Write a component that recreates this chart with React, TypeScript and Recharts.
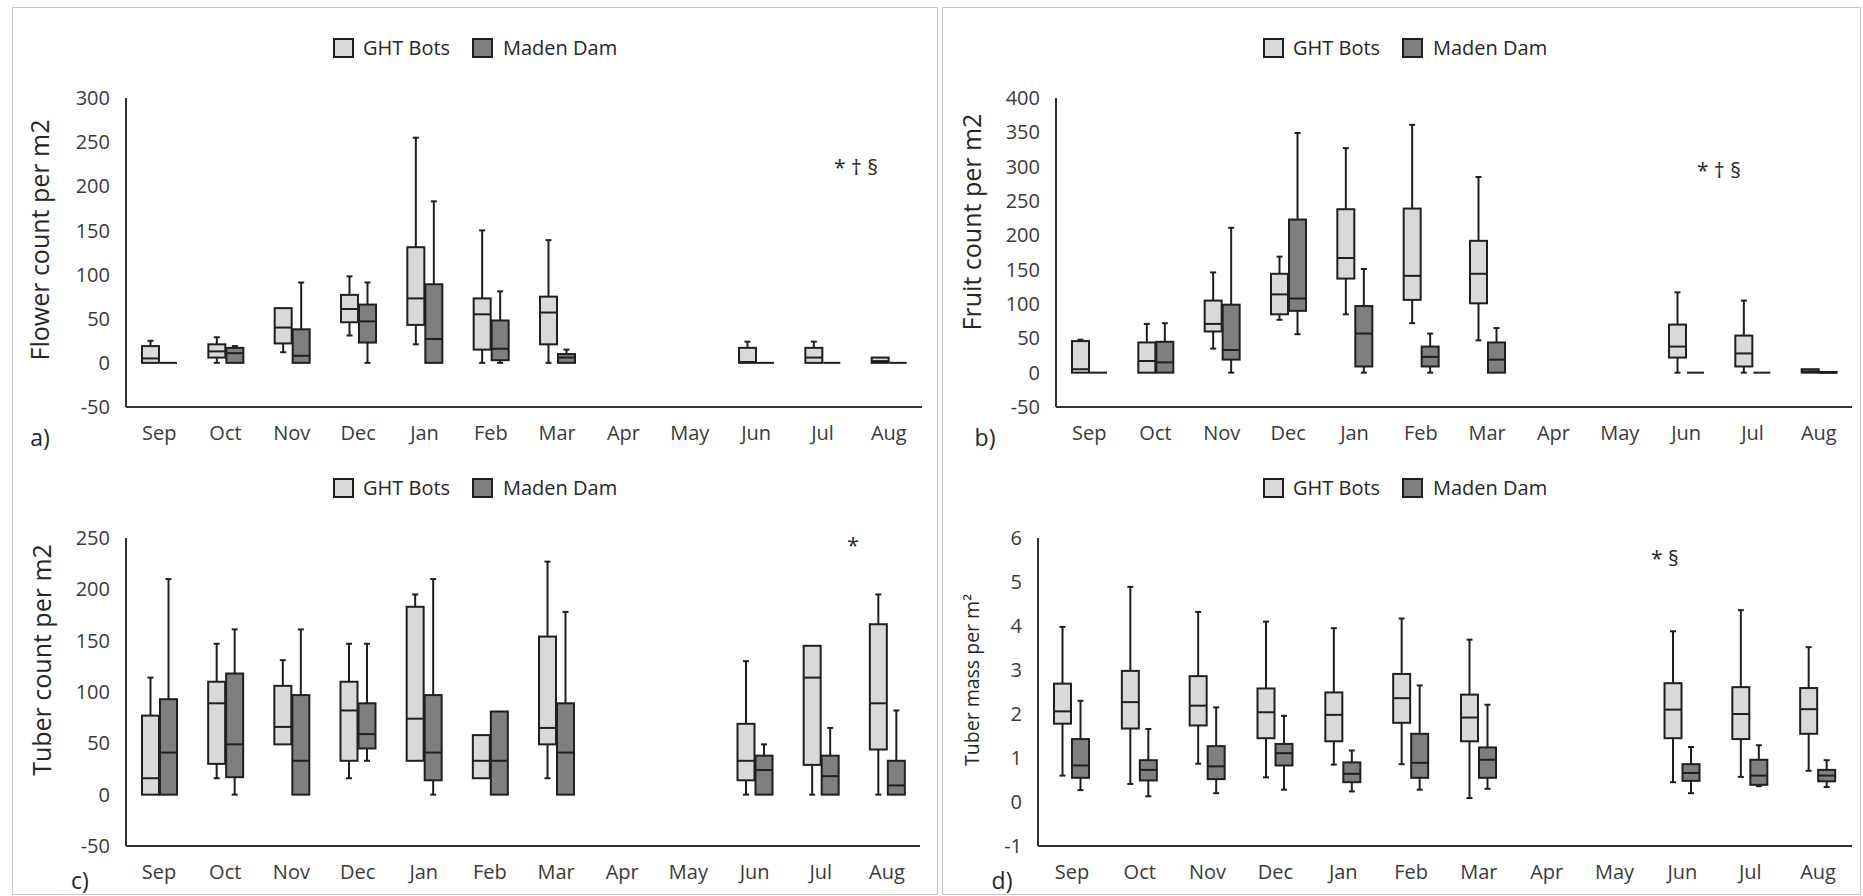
import React from 'react';
import { ComposedChart, Bar, XAxis, YAxis } from 'recharts';

const FONT = '"Open Sans", "DejaVu Sans", sans-serif';
const GHT_FILL = '#d9d9d9';
const MADEN_FILL = '#7f7f7f';
const INK = '#1f1f1f';

const months = ['Sep', 'Oct', 'Nov', 'Dec', 'Jan', 'Feb', 'Mar', 'Apr', 'May', 'Jun', 'Jul', 'Aug'];

// each entry: [whisker low, Q1, median, Q3, whisker high]
const flowerGht = [
  [0, 0, 5, 19, 25], [0, 6, 13, 21, 29], [12, 22, 40, 62, 62], [31, 46, 61, 77, 98],
  [21, 43, 73, 131, 255], [0, 15, 55, 73, 150], [0, 21, 57, 75, 139], null, null,
  [0, 0, 1, 17, 24], [0, 0, 6, 17, 24], [0, 0, 2, 6, 6],
];
const flowerMaden = [
  [0, 0, 0, 0, 0], [0, 0, 11, 17, 19], [0, 0, 8, 38, 91], [0, 23, 47, 66, 91],
  [0, 0, 27, 89, 183], [0, 3, 16, 48, 81], [0, 0, 6, 10, 15], null, null,
  [0, 0, 0, 0, 0], [0, 0, 0, 0, 0], [0, 0, 0, 0, 0],
];
const fruitGht = [
  [0, 0, 5, 46, 48], [0, 0, 17, 44, 71], [35, 60, 71, 105, 146], [77, 85, 114, 144, 169],
  [85, 137, 167, 238, 327], [72, 106, 141, 239, 361], [47, 101, 144, 192, 285], null, null,
  [0, 22, 38, 70, 117], [0, 9, 28, 54, 105], [0, 0, 2, 5, 5],
];
const fruitMaden = [
  [0, 0, 0, 0, 0], [0, 0, 15, 45, 72], [0, 19, 33, 99, 211], [56, 90, 108, 223, 349],
  [0, 9, 57, 97, 151], [0, 9, 23, 38, 57], [0, 0, 19, 44, 65], null, null,
  [0, 0, 0, 0, 0], [0, 0, 0, 0, 0], [0, 0, 0, 1, 1],
];
const tuberGht = [
  [0, 0, 16, 77, 114], [16, 30, 89, 110, 147], [49, 49, 66, 106, 131], [16, 33, 82, 110, 147],
  [33, 33, 74, 183, 195], [16, 16, 33, 58, 58], [16, 49, 65, 154, 227], null, null,
  [0, 14, 33, 69, 130], [0, 29, 114, 145, 145], [0, 44, 89, 166, 195],
];
const tuberMaden = [
  [0, 0, 41, 93, 210], [0, 17, 49, 118, 161], [0, 0, 33, 97, 161], [33, 45, 59, 89, 147],
  [0, 14, 41, 97, 210], [0, 0, 33, 81, 81], [0, 0, 41, 89, 178], null, null,
  [0, 0, 24, 38, 49], [0, 0, 18, 38, 65], [0, 0, 9, 33, 82],
];
const massGht = [
  [0.6, 1.78, 2.06, 2.69, 3.98], [0.41, 1.67, 2.27, 2.98, 4.89], [0.87, 1.74, 2.19, 2.86, 4.32],
  [0.56, 1.45, 2.04, 2.58, 4.1], [0.85, 1.38, 1.98, 2.49, 3.95], [0.86, 1.8, 2.36, 2.91, 4.17],
  [0.09, 1.38, 1.92, 2.44, 3.69], null, null,
  [0.45, 1.45, 2.1, 2.7, 3.88], [0.57, 1.43, 2.0, 2.61, 4.36], [0.71, 1.55, 2.11, 2.59, 3.52],
];
const massMaden = [
  [0.27, 0.55, 0.83, 1.43, 2.3], [0.13, 0.49, 0.73, 0.95, 1.66], [0.2, 0.52, 0.81, 1.27, 2.15],
  [0.28, 0.83, 1.11, 1.32, 1.96], [0.24, 0.45, 0.64, 0.9, 1.17], [0.28, 0.55, 0.89, 1.55, 2.65],
  [0.3, 0.55, 0.96, 1.24, 2.21], null, null,
  [0.2, 0.48, 0.66, 0.86, 1.25], [0.36, 0.39, 0.6, 0.96, 1.29], [0.34, 0.47, 0.6, 0.73, 0.95],
];

const flowerTicks = [-50, 0, 50, 100, 150, 200, 250, 300];
const fruitTicks = [-50, 0, 50, 100, 150, 200, 250, 300, 350, 400];
const tuberTicks = [-50, 0, 50, 100, 150, 200, 250];
const massTicks = [-1, 0, 1, 2, 3, 4, 5, 6];

const panels = [
  {
    id: 'a', left: 0, top: 0, ml: 66, mr: 8, mb: 11,
    ght: flowerGht, maden: flowerMaden, ticks: flowerTicks,
    yLabel: 'Flower count per m2', yLabelSize: 25, yLabelPos: [39, 240],
    letter: 'a)', letterPos: [40, 437], note: '* † §', notePos: [856, 167],
  },
  {
    id: 'b', left: 930, top: 0, ml: 66, mr: 8, mb: 11,
    ght: fruitGht, maden: fruitMaden, ticks: fruitTicks,
    yLabel: 'Fruit count per m2', yLabelSize: 25, yLabelPos: [41, 222],
    letter: 'b)', letterPos: [55, 437], note: '* † §', notePos: [789, 170],
  },
  {
    id: 'c', left: 0, top: 440, ml: 66, mr: 10, mb: 12,
    ght: tuberGht, maden: tuberMaden, ticks: tuberTicks,
    yLabel: 'Tuber count per m2', yLabelSize: 25, yLabelPos: [41, 220],
    letter: 'c)', letterPos: [80, 440], note: '*', notePos: [853, 105],
  },
  {
    id: 'd', left: 930, top: 440, ml: 48, mr: 8, mb: 12,
    ght: massGht, maden: massMaden, ticks: massTicks,
    yLabel: 'Tuber mass per m²', yLabelSize: 19.5, yLabelPos: [42, 240],
    letter: 'd)', letterPos: [72, 440], note: '* §', notePos: [735, 118],
  },
];

const BoxShape = (props: any) => {
  const { x, y, width, height, stats, fill } = props;
  if (!stats || x == null || y == null || isNaN(y)) return null;
  const [lo, q1, med, q3, hi] = stats;
  const span = hi - lo;
  const py = (v: number) => (span > 0 ? y + ((hi - v) / span) * height : y);
  const cx = x + width / 2;
  const cap = 3;
  return (
    <g>
      <line x1={cx} x2={cx} y1={py(hi)} y2={py(q3)} stroke={INK} strokeWidth={2} />
      <line x1={cx} x2={cx} y1={py(q1)} y2={py(lo)} stroke={INK} strokeWidth={2} />
      {hi > q3 && <line x1={cx - cap} x2={cx + cap} y1={py(hi)} y2={py(hi)} stroke={INK} strokeWidth={2} />}
      {lo < q1 && <line x1={cx - cap} x2={cx + cap} y1={py(lo)} y2={py(lo)} stroke={INK} strokeWidth={2} />}
      <rect x={x} y={py(q3)} width={width} height={Math.max(0, py(q1) - py(q3))} fill={fill} stroke={INK} strokeWidth={2} />
      <line x1={x} x2={x + width} y1={py(med)} y2={py(med)} stroke={INK} strokeWidth={2} />
    </g>
  );
};

const centered = (pos: number[], extra: React.CSSProperties, rotate = false): React.CSSProperties => ({
  position: 'absolute',
  left: pos[0],
  top: pos[1],
  transform: `translate(-50%, -50%)${rotate ? ' rotate(-90deg)' : ''}`,
  whiteSpace: 'nowrap',
  fontFamily: FONT,
  lineHeight: 1,
  ...extra,
});

function Panel({ cfg }: { cfg: any }) {
  const data = months.map((m, i) => ({ month: m, ght: cfg.ght[i], maden: cfg.maden[i] }));
  const domain = [cfg.ticks[0], cfg.ticks[cfg.ticks.length - 1]];
  return (
    <div style={{ position: 'absolute', left: cfg.left, top: cfg.top, width: 930, height: 448 }}>
      <ComposedChart
        width={930}
        height={448}
        data={data}
        margin={{ top: 98, right: cfg.mr, bottom: cfg.mb, left: cfg.ml }}
        barSize={17}
        barGap={1}
      >
        <XAxis
          dataKey="month"
          interval={0}
          tickLine={false}
          axisLine={{ stroke: '#333', strokeWidth: 2 }}
          tick={{ fontSize: 20, fill: '#3a3a3a', fontFamily: FONT }}
          tickMargin={13}
          height={30}
        />
        <YAxis
          type="number"
          domain={domain}
          ticks={cfg.ticks}
          interval={0}
          allowDataOverflow
          tickLine={false}
          axisLine={{ stroke: '#333', strokeWidth: 2 }}
          tick={{ fontSize: 20, fill: '#3a3a3a', fontFamily: FONT }}
          tickMargin={10}
          width={60}
        />
        <Bar
          dataKey={(r: any) => (r.ght ? [r.ght[0], r.ght[4]] : null)}
          name="GHT Bots"
          fill={GHT_FILL}
          isAnimationActive={false}
          shape={(p: any) => <BoxShape {...p} stats={p.payload.ght} fill={GHT_FILL} />}
        />
        <Bar
          dataKey={(r: any) => (r.maden ? [r.maden[0], r.maden[4]] : null)}
          name="Maden Dam"
          fill={MADEN_FILL}
          isAnimationActive={false}
          shape={(p: any) => <BoxShape {...p} stats={p.payload.maden} fill={MADEN_FILL} />}
        />
      </ComposedChart>

      {/* legend */}
      <div style={{ position: 'absolute', left: 333, top: 38, width: 17, height: 16, background: GHT_FILL, border: `2px solid ${INK}` }} />
      <div style={{ position: 'absolute', left: 363, top: 36, fontFamily: FONT, fontSize: 20, color: '#262626', lineHeight: '24px' }}>GHT Bots</div>
      <div style={{ position: 'absolute', left: 472, top: 38, width: 17, height: 16, background: MADEN_FILL, border: `2px solid ${INK}` }} />
      <div style={{ position: 'absolute', left: 503, top: 36, fontFamily: FONT, fontSize: 20, color: '#262626', lineHeight: '24px' }}>Maden Dam</div>

      <div style={centered(cfg.yLabelPos, { fontSize: cfg.yLabelSize, color: '#262626' }, true)}>{cfg.yLabel}</div>
      <div style={centered(cfg.letterPos, { fontSize: 23, color: '#262626' })}>{cfg.letter}</div>
      <div style={centered(cfg.notePos, { fontSize: 21, color: '#262626' })}>{cfg.note}</div>
    </div>
  );
}

export default function App() {
  return (
    <div style={{ position: 'absolute', left: 0, top: 0, width: 1863, height: 896, background: '#fff', overflow: 'hidden' }}>
      <div style={{ position: 'absolute', left: 12, top: 7, width: 924, height: 886, border: '1px solid #c8c8c8' }} />
      <div style={{ position: 'absolute', left: 942, top: 7, width: 917, height: 886, border: '1px solid #c8c8c8' }} />
      {panels.map((p) => (
        <Panel key={p.id} cfg={p} />
      ))}
    </div>
  );
}
